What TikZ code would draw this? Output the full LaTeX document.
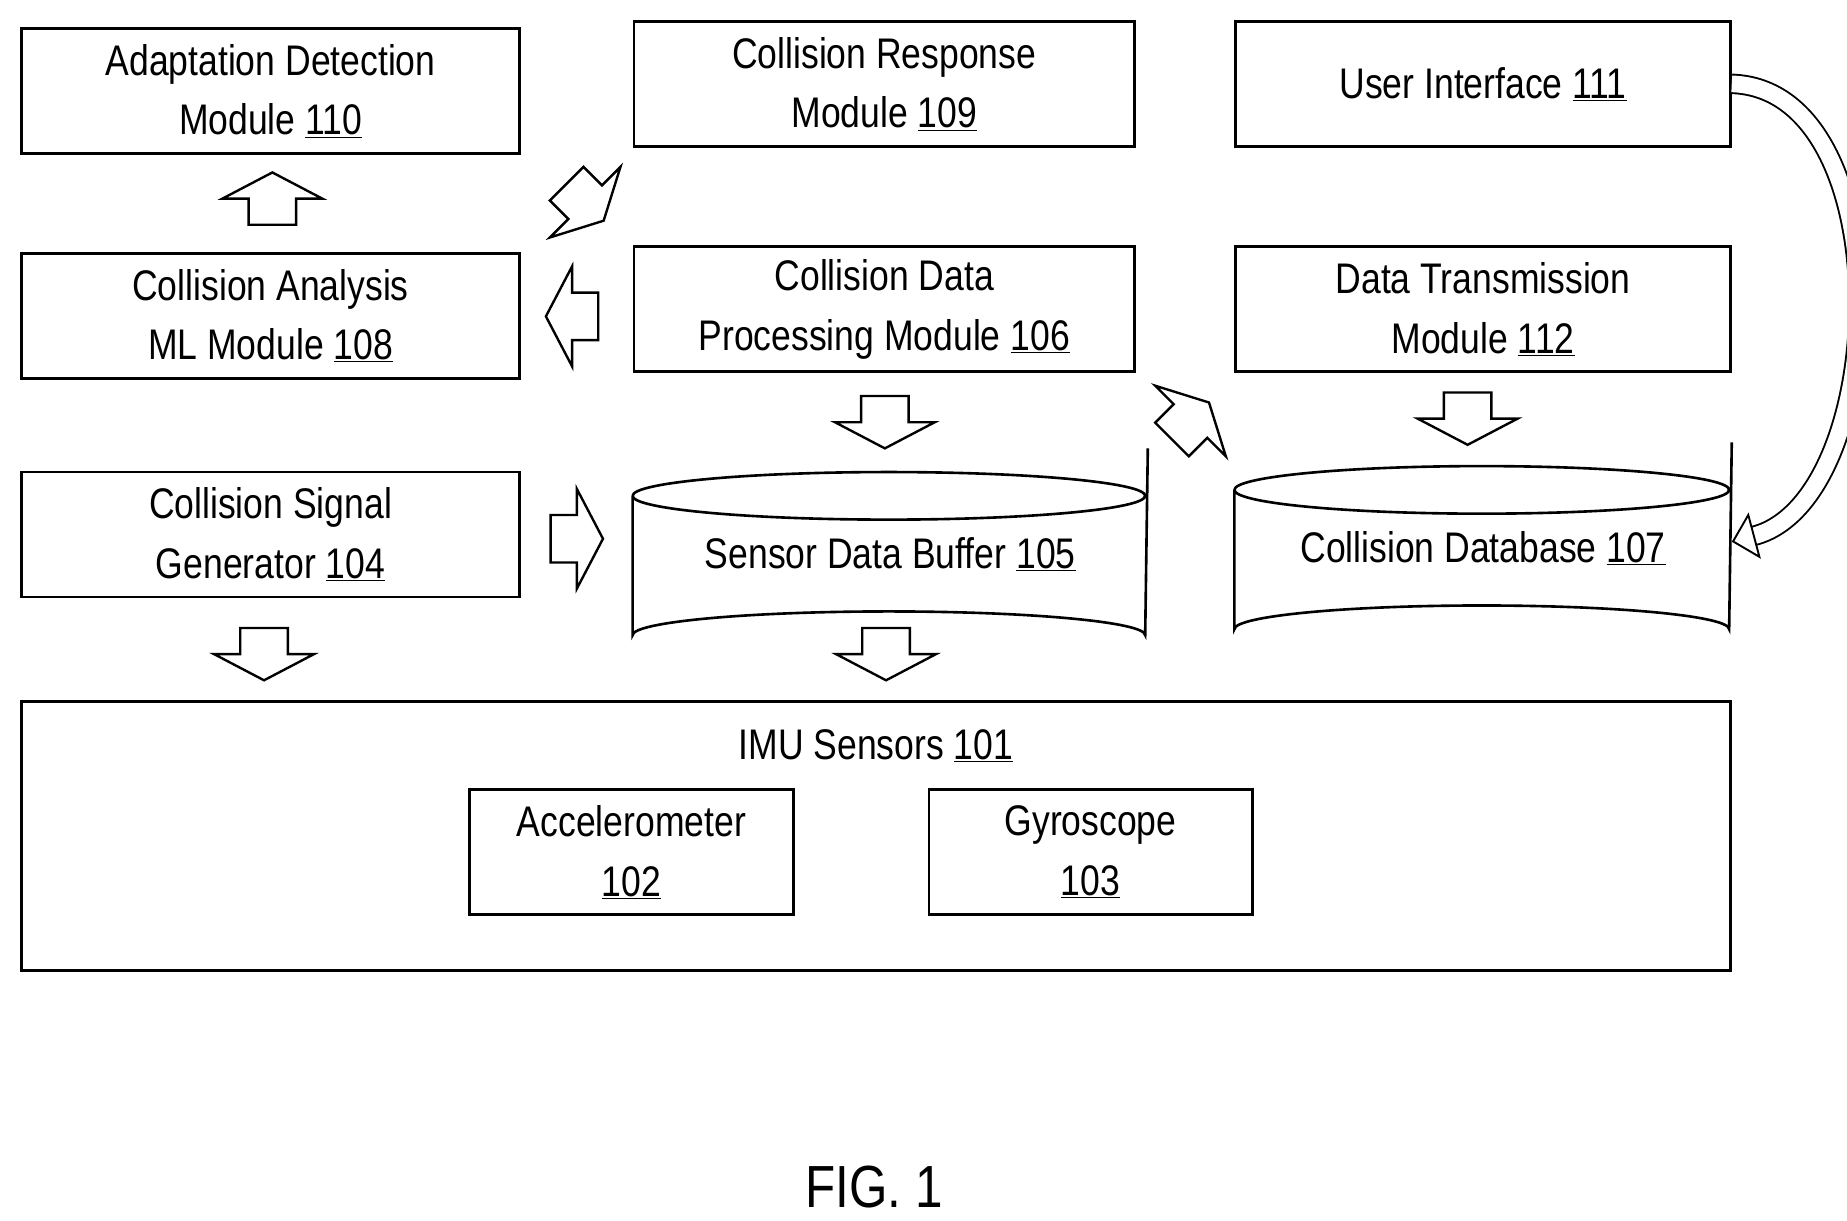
\documentclass[tikz,border=0pt]{standalone}
\usepackage{fontspec}
\setmainfont[FakeStretch=0.83]{Liberation Sans}
\usetikzlibrary{arrows.meta}
\newcommand{\refn}[1]{\underline{#1}}
% hollow block arrow: name, position, angle
\newcommand{\blockarrow}[3]{%
  \coordinate (#1) at #2;
  \draw[line width=2pt,rotate around={#3:(#1)},shift={(#1)}]
    (-22,-20) -- (0,-20) -- (0,-42) -- (22,0) -- (0,42) -- (0,20) -- (-22,20) -- cycle;}

\begin{document}
\begin{tikzpicture}[x=1pt,y=-1pt,line width=2.2pt,
  font=\fontsize{36}{50}\selectfont,
  box/.style={draw,align=center,minimum width=419,minimum height=105,inner sep=0},
  small/.style={draw,align=center,minimum width=272,minimum height=105,inner sep=0},
  store/.style={minimum width=420,minimum height=115,inner sep=0}]
\useasboundingbox (0,0) rectangle (1553,1026);

% modules
\node[box] (adapt) at (227.5,76.5) {Adaptation Detection\\Module \refn{110}};
\node[box,minimum width=421] (resp) at (743.5,70.5) {Collision Response\\Module \refn{109}};
\node[box,minimum width=416] (ui) at (1247,70.5) {User Interface \refn{111}};
\node[box] (analysis) at (227.5,265.5) {Collision Analysis\\ML Module \refn{108}};
\node[box,minimum width=421] (proc) at (743.5,260) {Collision Data\\Processing Module \refn{106}};
\node[box,minimum width=416] (trans) at (1247,260) {Data Transmission\\Module \refn{112}};
\node[box] (signal) at (227.5,449.5) {Collision Signal\\Generator \refn{104}};

% storage
\node[store,minimum width=431] (buffer) at (748.5,455.5) {};
\draw (buffer.north west) ++(0,20) arc[x radius=215.5,y radius=20,start angle=180,end angle=-180]
  (buffer.north west) ++(0,20) -- ([yshift=-20]buffer.south west) arc[x radius=215.5,y radius=20,start angle=180,end angle=360] -- ([yshift=20]buffer.north east);
\node at (748.5,466) {Sensor Data Buffer \refn{105}};
\node[store,minimum width=416] (db) at (1247,450.5) {};
\draw (db.north west) ++(0,20) arc[x radius=208,y radius=20,start angle=180,end angle=-180]
  (db.north west) ++(0,20) -- ([yshift=-20]db.south west) arc[x radius=208,y radius=20,start angle=180,end angle=360] -- ([yshift=20]db.north east);
\node at (1247,461) {Collision Database \refn{107}};

% sensors
\node[draw,minimum width=1437,minimum height=226,inner sep=0] (imu) at (736.5,703) {};
\node (imulab) at (736.5,627) {IMU Sensors \refn{101}};
\node[small] (acc) at (531,716.5) {Accelerometer\\\refn{102}};
\node[small] (gyro) at (917,716.5) {Gyroscope\\\refn{103}};

% block arrows
\blockarrow{a1}{(229,167)}{90}
\blockarrow{a2}{(492,170)}{-45}
\blockarrow{a3}{(481,266)}{180}
\blockarrow{a4}{(744,355)}{-90}
\blockarrow{a5}{(1001,354)}{45}
\blockarrow{a6}{(1234,352)}{-90}
\blockarrow{a7}{(485,453)}{0}
\blockarrow{a8}{(222,550)}{-90}
\blockarrow{a9}{(745,550)}{-90}

% feedback
\draw[double,double distance=14pt,line width=1.6pt,-{Triangle[open,length=20pt,width=40pt,line width=1.6pt]}]
  (ui.east) .. controls (1600,75) and (1590,420) .. ([yshift=-5]db.east);

\node (fig) at (735,998) {\fontsize{50}{60}\selectfont FIG. 1};
\end{tikzpicture}
\end{document}
